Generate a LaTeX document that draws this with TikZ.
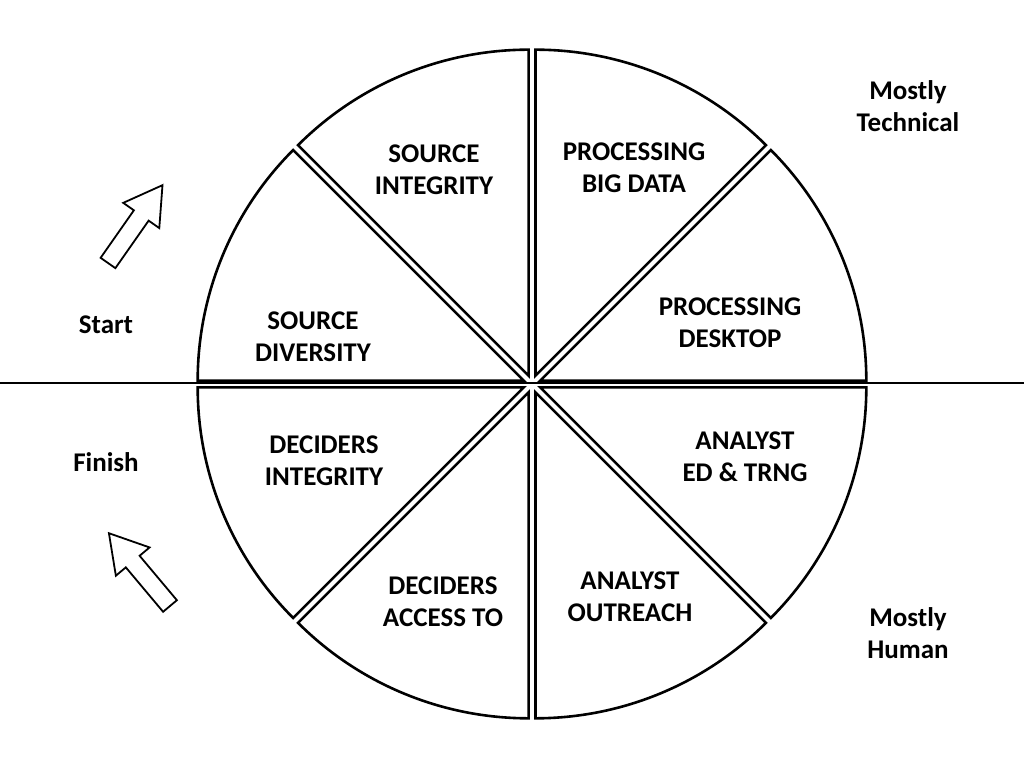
\documentclass[tikz,border=0pt]{standalone}
\usepackage{fontspec}
\usetikzlibrary{calc}
\setmainfont{Carlito}
\begin{document}
\begin{tikzpicture}[x=1pt,y=1pt,
  lbl/.style={font=\fontsize{27}{32}\selectfont\bfseries,align=center},
  wedge/.style={line width=2.6pt,line join=miter},
  blk/.style={line width=1.8pt}]
\useasboundingbox (0,0) rectangle (1024,768);
\coordinate (C) at (532,384);
\foreach \i in {0,...,7}{
  \pgfmathsetmacro\a{45*\i}
  \pgfmathsetmacro\b{45*\i+22.5}
  \begin{scope}[shift={($(C)+(\b:9)$)}]
    \draw[wedge] (0,0) coordinate (w\i) -- (\a:326) arc[start angle=\a, end angle=\a+45, radius=326] -- cycle;
  \end{scope}
}
\coordinate (L) at (0,385);
\coordinate (R) at (1024,385);
\draw[line width=2pt] (L) -- (R);
\node[lbl] (si) at (434,598) {SOURCE\\INTEGRITY};
\node[lbl] (pb) at (634,600) {PROCESSING\\BIG DATA};
\node[lbl] (pd) at (730,445) {PROCESSING\\DESKTOP};
\node[lbl] (sd) at (313,431) {SOURCE\\DIVERSITY};
\node[lbl] (di) at (324,307) {DECIDERS\\INTEGRITY};
\node[lbl] (ae) at (745,311) {ANALYST\\ED \& TRNG};
\node[lbl] (da) at (443,166) {DECIDERS\\ACCESS TO};
\node[lbl] (ao) at (630,171) {ANALYST\\OUTREACH};
\node[lbl] (mt) at (908,662) {Mostly\\Technical};
\node[lbl] (mh) at (908,135) {Mostly\\Human};
\node[lbl] (st) at (106,443) {Start};
\node[lbl] (fi) at (106,306) {Finish};
\begin{scope}[shift={(108,505)},rotate=55]
  \draw[blk] (0,-9) -- (58,-9) -- (58,-22) -- (95,0) -- (58,22) -- (58,9) -- (0,9) -- cycle;
\end{scope}
\begin{scope}[shift={(170,162)},rotate=130]
  \draw[blk] (0,-9) -- (58,-9) -- (58,-22) -- (95,0) -- (58,22) -- (58,9) -- (0,9) -- cycle;
\end{scope}
\end{tikzpicture}
\end{document}
